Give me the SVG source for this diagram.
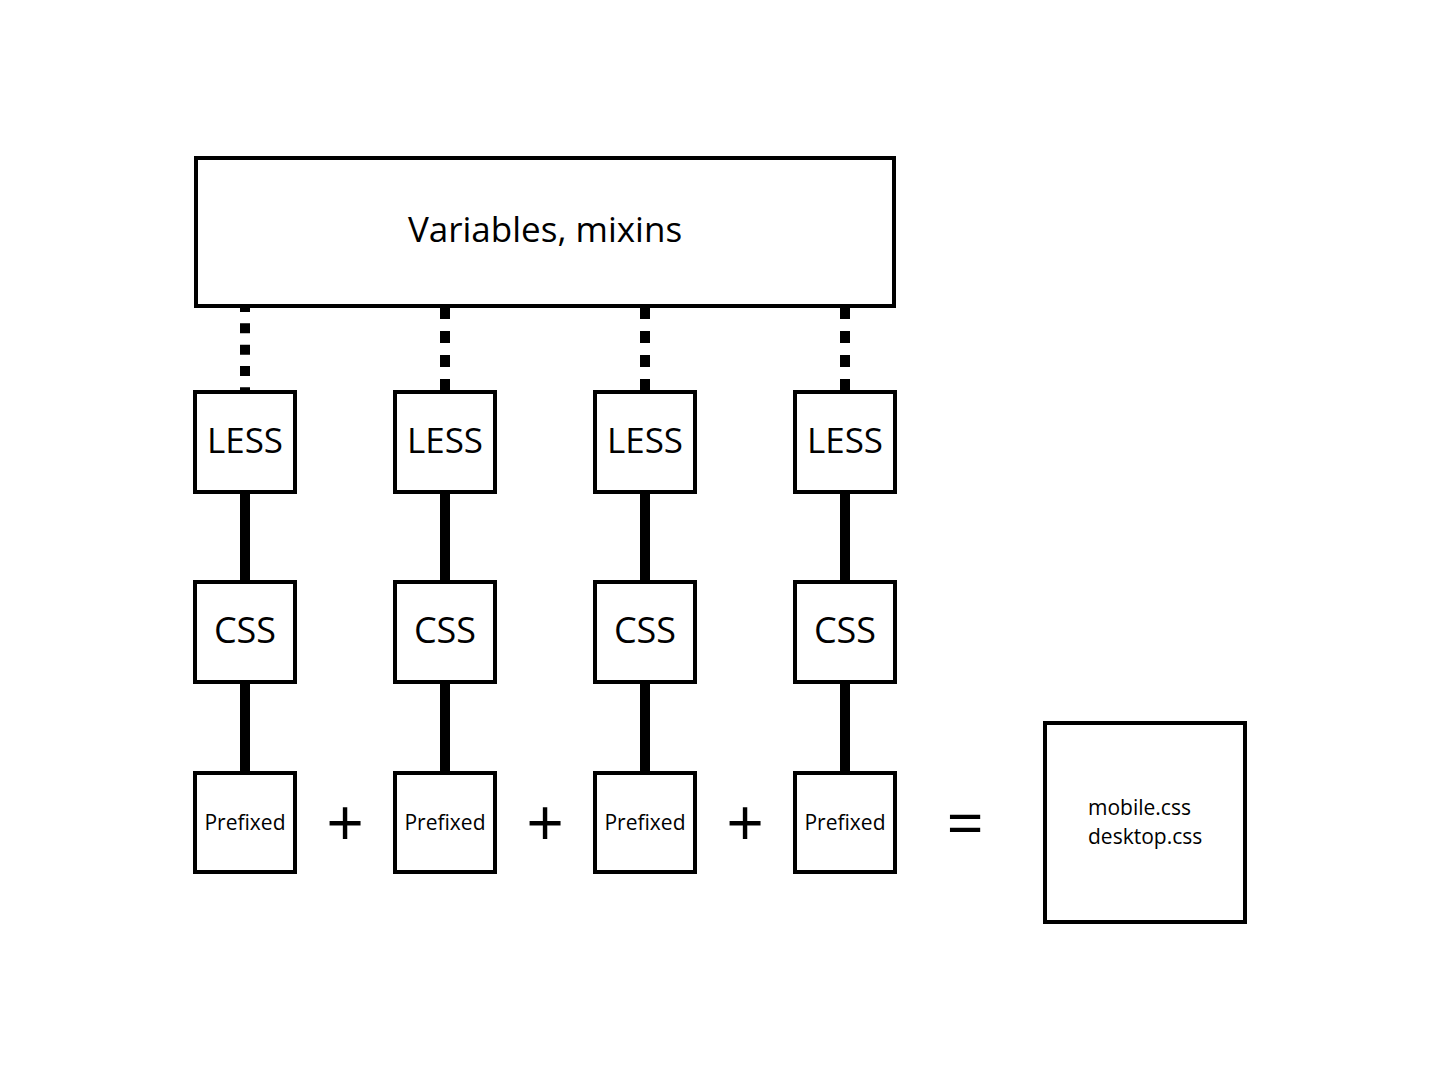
<svg xmlns="http://www.w3.org/2000/svg" width="1440" height="1080" viewBox="0 0 1440 1080">
<style>
.box{fill:#fff;stroke:#000;stroke-width:4}
.t{font-family:"Open Sans","Noto Sans",sans-serif;fill:#000;text-anchor:middle}
.solid{stroke:#000;stroke-width:10;fill:none}
.dot1{stroke:#000;stroke-width:10;fill:none;stroke-dasharray:10 11.33}
.dot2{stroke:#000;stroke-width:10;fill:none;stroke-dasharray:12 12}
</style>
<rect x="0" y="0" width="1440" height="1080" fill="#fff"/>
<g id="connectors">
<line class="dot1" x1="245" y1="302" x2="245" y2="392"/>
<line class="dot2" x1="445" y1="307" x2="445" y2="392"/>
<line class="dot2" x1="645" y1="307" x2="645" y2="392"/>
<line class="dot2" x1="845" y1="307" x2="845" y2="392"/>
<line class="solid" x1="245" y1="492" x2="245" y2="582"/>
<line class="solid" x1="445" y1="492" x2="445" y2="582"/>
<line class="solid" x1="645" y1="492" x2="645" y2="582"/>
<line class="solid" x1="845" y1="492" x2="845" y2="582"/>
<line class="solid" x1="245" y1="682" x2="245" y2="773"/>
<line class="solid" x1="445" y1="682" x2="445" y2="773"/>
<line class="solid" x1="645" y1="682" x2="645" y2="773"/>
<line class="solid" x1="845" y1="682" x2="845" y2="773"/>
</g>
<g id="top">
<rect class="box" x="196" y="158" width="698" height="148"/>
<text class="t" x="545" y="242" font-size="35">Variables, mixins</text>
</g>
<g id="less1"><rect class="box" x="195" y="392" width="100" height="100"/><text class="t" x="245" y="453" font-size="35">LESS</text></g>
<g id="less2"><rect class="box" x="395" y="392" width="100" height="100"/><text class="t" x="445" y="453" font-size="35">LESS</text></g>
<g id="less3"><rect class="box" x="595" y="392" width="100" height="100"/><text class="t" x="645" y="453" font-size="35">LESS</text></g>
<g id="less4"><rect class="box" x="795" y="392" width="100" height="100"/><text class="t" x="845" y="453" font-size="35">LESS</text></g>
<g id="css1"><rect class="box" x="195" y="582" width="100" height="100"/><text class="t" x="245" y="643" font-size="36">CSS</text></g>
<g id="css2"><rect class="box" x="395" y="582" width="100" height="100"/><text class="t" x="445" y="643" font-size="36">CSS</text></g>
<g id="css3"><rect class="box" x="595" y="582" width="100" height="100"/><text class="t" x="645" y="643" font-size="36">CSS</text></g>
<g id="css4"><rect class="box" x="795" y="582" width="100" height="100"/><text class="t" x="845" y="643" font-size="36">CSS</text></g>
<g id="pre1"><rect class="box" x="195" y="773" width="100" height="99"/><text class="t" x="245" y="830" font-size="21">Prefixed</text></g>
<g id="pre2"><rect class="box" x="395" y="773" width="100" height="99"/><text class="t" x="445" y="830" font-size="21">Prefixed</text></g>
<g id="pre3"><rect class="box" x="595" y="773" width="100" height="99"/><text class="t" x="645" y="830" font-size="21">Prefixed</text></g>
<g id="pre4"><rect class="box" x="795" y="773" width="100" height="99"/><text class="t" x="845" y="830" font-size="21">Prefixed</text></g>
<g id="ops">
<text class="t" x="345" y="846" font-size="66">+</text>
<text class="t" x="545" y="846" font-size="66">+</text>
<text class="t" x="745" y="846" font-size="66">+</text>
<text class="t" x="965" y="846" font-size="66">=</text>
</g>
<g id="output">
<rect class="box" x="1045" y="723" width="200" height="199"/>
<text class="t" x="1088" y="815" font-size="21" style="text-anchor:start">mobile.css</text>
<text class="t" x="1088" y="844" font-size="21" style="text-anchor:start">desktop.css</text>
</g>
</svg>
